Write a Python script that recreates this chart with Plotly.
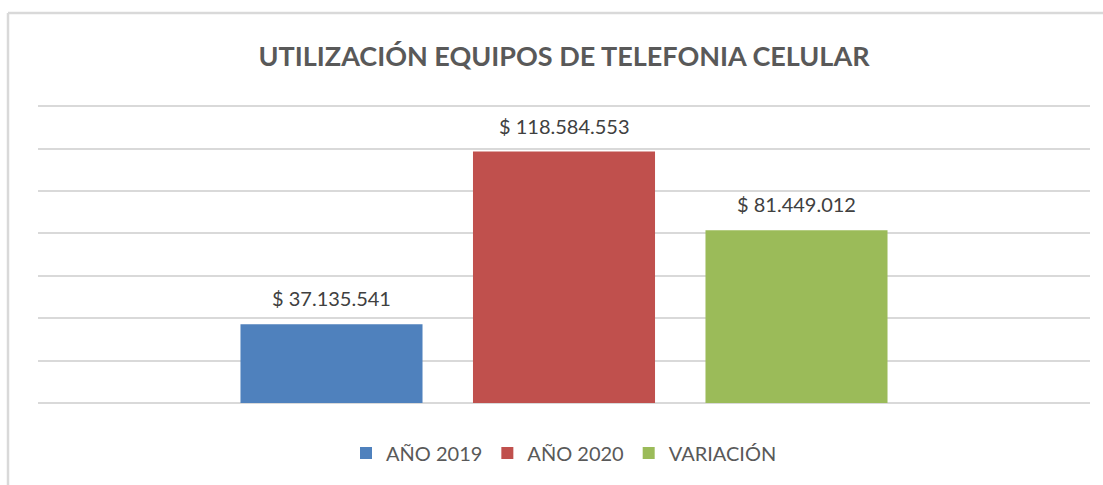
import plotly.graph_objects as go

series_names = ["AÑO 2019", "AÑO 2020", "VARIACIÓN"]
series_values = [37135541, 118584553, 81449012]
series_colors = ["#4F81BD", "#C0504D", "#9BBB59"]
title_text = "UTILIZACIÓN EQUIPOS DE TELEFONIA CELULAR"


def fmt(v):
    return "$ " + f"{v:,}".replace(",", ".")


fig = go.Figure()
for name, val, col in zip(series_names, series_values, series_colors):
    fig.add_trace(go.Bar(
        x=[name], y=[val], name=name, width=0.783,
        marker=dict(color=col, line=dict(width=0)),
        hoverinfo="skip",
    ))
    fig.add_annotation(
        x=name, y=val, text=fmt(val), showarrow=False,
        yanchor="middle", yshift=26,
        font=dict(family="Lato", size=20, color="#404040"),
    )

W, H = 1103, 485
L, R, T, B = 38, 13, 104, 82
pw, ph = W - L - R, H - T - B

x0 = (8 - L) / pw
y0 = (H - B - 13) / ph
xr = (W - L + 5) / pw
yb = -(B + 5) / ph

half = pw / 232.5 / 2

fig.update_layout(
    width=W, height=H,
    margin=dict(l=L, r=R, t=T, b=B),
    paper_bgcolor="white", plot_bgcolor="white",
    barmode="overlay",
    title=dict(text="<b>" + title_text + "</b>", xref="paper", x=0.5, xanchor="center",
               y=1 - 57 / H, yanchor="middle",
               font=dict(family="Lato", size=27, color="#595959")),
    xaxis=dict(type="category", range=[1 - half, 1 + half], showticklabels=False,
               showgrid=False, zeroline=False, showline=False),
    yaxis=dict(range=[0, 141000000], dtick=20000000, showticklabels=False,
               showgrid=True, gridcolor="#D9D9D9", gridwidth=1.5,
               zeroline=True, zerolinecolor="#D9D9D9", zerolinewidth=2),
    legend=dict(orientation="h", x=0.5, xanchor="center", y=-50 / ph, yanchor="middle",
                font=dict(family="Lato", size=20, color="#595959"),
                itemwidth=30, traceorder="normal"),
    showlegend=True,
    shapes=[
        dict(type="line", xref="paper", yref="paper", x0=x0, x1=x0, y0=y0, y1=yb,
             line=dict(color="#D9D9D9", width=2.5)),
        dict(type="line", xref="paper", yref="paper", x0=x0, x1=xr, y0=y0, y1=y0,
             line=dict(color="#D9D9D9", width=2.5)),
    ],
)

fig.write_html("out.html", config={"displayModeBar": False},
               post_script="document.body.style.margin='0';")
